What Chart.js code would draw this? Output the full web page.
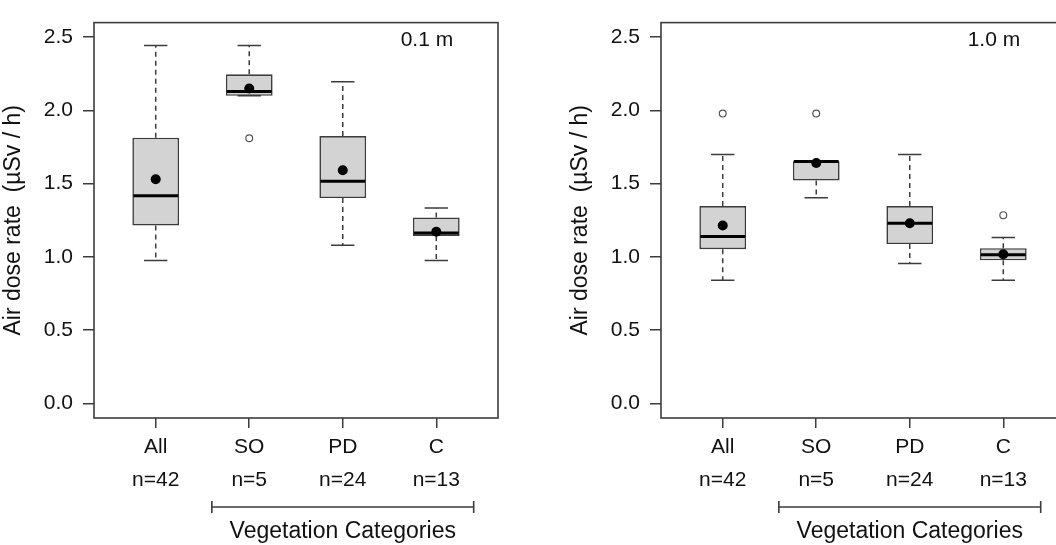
<!doctype html>
<html lang="en">
<head>
  <meta charset="utf-8">
  <title>Air dose rate by vegetation category</title>
  <style>
    html, body { margin: 0; padding: 0; background: #fff; overflow: hidden; }
    #wrap { position: relative; width: 1056px; height: 545px; overflow: hidden; }
    .panel { position: absolute; top: 0; width: 540px; height: 545px; }
    #left { left: 0; }
    #right { left: 567px; }
  </style>
</head>
<body>
  <div id="wrap">
    <div class="panel" id="left"><canvas id="chart01" width="540" height="545"></canvas></div>
    <div class="panel" id="right"><canvas id="chart10" width="540" height="545"></canvas></div>
  </div>

  <script src="https://cdn.jsdelivr.net/npm/chart.js"></script>
  <script>
    // categories and tick labels
    const categories = ['All', 'SO', 'PD', 'C'];
    const sampleSizes = ['n=42', 'n=5', 'n=24', 'n=13'];
    const yTicks = [0, 0.5, 1.0, 1.5, 2.0, 2.5];
    const groupLabel = 'Vegetation Categories';
    const yTitle = 'Air dose rate  (\u00b5Sv / h)';

    // 0.1 m height
    const low01  = [0.975, 2.100, 1.080, 0.975];
    const q1_01  = [1.215, 2.100, 1.402, 1.143];
    const med01  = [1.418, 2.130, 1.517, 1.163];
    const q3_01  = [1.814, 2.247, 1.825, 1.269];
    const high01 = [2.444, 2.444, 2.196, 1.334];
    const mean01 = [1.530, 2.150, 1.592, 1.172];
    const outX01 = [2];
    const outY01 = [1.81];

    // 1.0 m height
    const low10  = [0.840, 1.404, 0.955, 0.840];
    const q1_10  = [1.053, 1.522, 1.088, 0.977];
    const med10  = [1.139, 1.652, 1.230, 1.015];
    const q3_10  = [1.347, 1.654, 1.347, 1.059];
    const high10 = [1.699, 1.654, 1.699, 1.132];
    const mean10 = [1.214, 1.641, 1.230, 1.018];
    const outX10 = [1, 2, 4];
    const outY10 = [1.979, 1.979, 1.285];

    const FONT = "'Liberation Sans', Arial, sans-serif";
    const INK = '#111';
    const LINE = '#3c3c3c';

    // whiskers, staples, medians, frame and the extra labels
    const boxParts = {
      id: 'boxParts',
      beforeDatasetsDraw(chart, args, o) {
        const ctx = chart.ctx, x = chart.scales.x, y = chart.scales.y;
        const half = (x.getPixelForValue(1.125) - x.getPixelForValue(1));
        ctx.save();
        ctx.strokeStyle = LINE;
        ctx.lineWidth = 1.5;
        o.low.forEach((lo, i) => {
          const px = x.getPixelForValue(i + 1);
          const yHi = y.getPixelForValue(o.high[i]);
          const yLo = y.getPixelForValue(lo);
          ctx.setLineDash([5, 4]);
          ctx.beginPath();
          ctx.moveTo(px, y.getPixelForValue(o.q3[i])); ctx.lineTo(px, yHi);
          ctx.moveTo(px, y.getPixelForValue(o.q1[i])); ctx.lineTo(px, yLo);
          ctx.stroke();
          ctx.setLineDash([]);
          ctx.beginPath();
          ctx.moveTo(px - half, yHi); ctx.lineTo(px + half, yHi);
          ctx.moveTo(px - half, yLo); ctx.lineTo(px + half, yLo);
          ctx.stroke();
        });
        ctx.restore();
      },
      afterDatasetDraw(chart, args, o) {
        if (args.meta.type !== 'bar') return;
        const ctx = chart.ctx, x = chart.scales.x, y = chart.scales.y;
        const half = (x.getPixelForValue(1.25) - x.getPixelForValue(1)) - 1;
        ctx.save();
        ctx.strokeStyle = '#000';
        ctx.lineWidth = 3;
        o.med.forEach((m, i) => {
          const px = x.getPixelForValue(i + 1);
          const py = y.getPixelForValue(m);
          ctx.beginPath();
          ctx.moveTo(px - half, py); ctx.lineTo(px + half, py);
          ctx.stroke();
        });
        ctx.restore();
      },
      afterDraw(chart, args, o) {
        const ctx = chart.ctx, x = chart.scales.x, y = chart.scales.y;
        const a = chart.chartArea;
        ctx.save();
        ctx.strokeStyle = LINE;
        ctx.lineWidth = 1.6;
        ctx.strokeRect(a.left, a.top, a.right - a.left, a.bottom - a.top);

        ctx.fillStyle = INK;
        ctx.font = '21px ' + FONT;
        ctx.textAlign = 'center';
        ctx.textBaseline = 'middle';
        ctx.fillText(o.tag, x.getPixelForValue(3.9), y.getPixelForValue(2.48));

        // bracket under the vegetation groups
        const bx0 = x.getPixelForValue(1.6), bx1 = x.getPixelForValue(4.4);
        const by = 507;
        ctx.beginPath();
        ctx.moveTo(bx0, by); ctx.lineTo(bx1, by);
        ctx.moveTo(bx0, by - 6); ctx.lineTo(bx0, by + 6);
        ctx.moveTo(bx1, by - 6); ctx.lineTo(bx1, by + 6);
        ctx.stroke();

        ctx.font = '23px ' + FONT;
        ctx.textBaseline = 'alphabetic';
        ctx.fillText(groupLabel, x.getPixelForValue(3), 538);
        ctx.restore();
      }
    };

    function makeChart(id, tag, low, q1, med, q3, high, mean, outX, outY) {
      return new Chart(document.getElementById(id), {
        type: 'bar',
        data: {
          datasets: [
            {
              type: 'line',
              label: 'Mean',
              data: mean.map((v, i) => ({ x: i + 1, y: v })),
              showLine: false,
              pointRadius: 5,
              pointBackgroundColor: '#000',
              pointBorderColor: '#000',
              pointBorderWidth: 0,
              order: 1
            },
            {
              type: 'line',
              label: 'Outliers',
              data: outX.map((xv, i) => ({ x: xv, y: outY[i] })),
              showLine: false,
              pointRadius: 3.4,
              pointBackgroundColor: '#fff',
              pointBorderColor: '#555',
              pointBorderWidth: 1.2,
              order: 2
            },
            {
              label: 'Box',
              data: q1.map((v, i) => ({ x: i + 1, y: [v, q3[i]] })),
              backgroundColor: '#d3d3d3',
              borderColor: LINE,
              borderWidth: 1.6,
              borderSkipped: false,
              categoryPercentage: 1,
              barPercentage: 0.5,
              order: 3
            }
          ]
        },
        options: {
          responsive: false,
          animation: false,
          layout: { padding: { top: 11.5, right: 42, left: 0, bottom: 0 } },
          plugins: {
            legend: { display: false },
            tooltip: { enabled: false },
            boxParts: { tag, low, q1, med, q3, high }
          },
          scales: {
            x: {
              type: 'linear',
              min: 0.34,
              max: 4.66,
              offset: false,
              afterBuildTicks: s => { s.ticks = categories.map((c, i) => ({ value: i + 1 })); },
              afterFit: s => { s.height = 127; },
              grid: { offset: false, drawOnChartArea: false, tickLength: 10, color: LINE, lineWidth: 1.5 },
              border: { display: false },
              ticks: {
                color: INK,
                padding: 2,
                maxRotation: 0,
                font: { family: FONT, size: 21, lineHeight: 1.6 },
                callback: v => [categories[v - 1], sampleSizes[v - 1]]
              }
            },
            y: {
              min: -0.1,
              max: 2.6,
              afterBuildTicks: s => { s.ticks = yTicks.map(v => ({ value: v })); },
              afterFit: s => { s.width = 94; },
              grid: { drawOnChartArea: false, tickLength: 11, color: LINE, lineWidth: 1.5 },
              border: { display: false },
              ticks: {
                color: INK,
                padding: 10,
                font: { family: FONT, size: 21 },
                callback: v => v.toFixed(1)
              },
              title: {
                display: true,
                text: yTitle,
                color: INK,
                padding: { top: 0, bottom: 0 },
                font: { family: FONT, size: 23 }
              }
            }
          }
        },
        plugins: [boxParts]
      });
    }

    makeChart('chart01', '0.1 m', low01, q1_01, med01, q3_01, high01, mean01, outX01, outY01);
    makeChart('chart10', '1.0 m', low10, q1_10, med10, q3_10, high10, mean10, outX10, outY10);
  </script>
</body>
</html>
